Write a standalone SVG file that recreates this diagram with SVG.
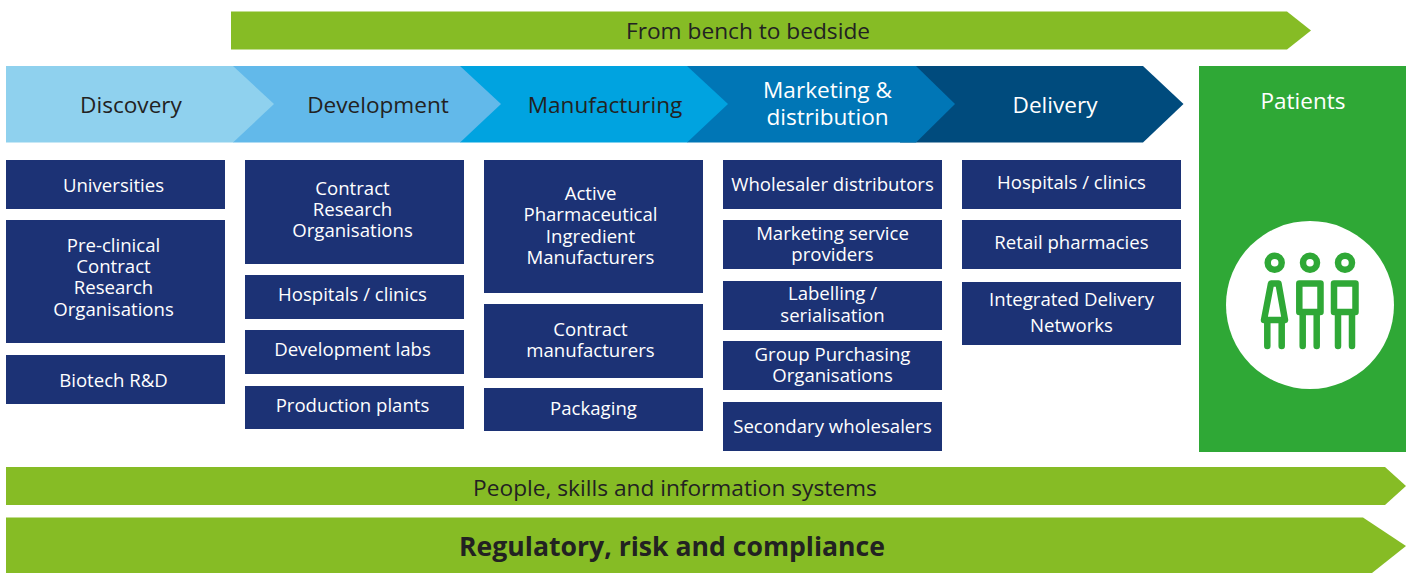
<svg xmlns="http://www.w3.org/2000/svg" width="1406" height="573" viewBox="0 0 1406 573">
<style>
text{font-family:"Open Sans","Liberation Sans",sans-serif;text-anchor:middle}
.b{fill:#1c3275}
.t{fill:#fff;font-size:18.6px}
.h{font-size:22.6px}
.d{fill:#222}
.w{fill:#fff}
.lime{fill:#86bc25}
.i{fill:none;stroke:#2fa836;stroke-width:6.5;stroke-linecap:round;stroke-linejoin:round}
</style>
<rect width="1406" height="573" fill="#fff"/>
<g id="bench"><polygon class="lime" points="231,11.5 1287,11.5 1311,30.5 1287,49.5 231,49.5"/><text class="d" x="748" y="39" font-size="22.7">From bench to bedside</text></g>
<g id="delivery"><polygon fill="#004b7d" points="900,66 1143,66 1183.500,104 1143,142.500 900,142.500"/><text class="w h" x="1055" y="113">Delivery</text></g>
<g id="marketing"><polygon fill="#0076b6" points="687,66 916,66 955,104 916,142.500 687,142.500"/><text class="w h" x="827.500" y="98">Marketing &amp;</text><text class="w h" x="827.500" y="125">distribution</text></g>
<g id="manufacturing"><polygon fill="#00a3e0" points="460,66 687,66 728,104 687,142.500 460,142.500"/><text class="d h" x="605" y="113">Manufacturing</text></g>
<g id="development"><polygon fill="#62b9ea" points="233,66 460,66 501,104 460,142.500 233,142.500"/><text class="d h" x="378" y="113">Development</text></g>
<g id="discovery"><polygon fill="#8fd1ee" points="6,66 233,66 274,104 233,142.500 6,142.500"/><text class="d h" x="131" y="113">Discovery</text></g>

<g id="universities"><rect class="b" x="6" y="160" width="219" height="49"/><text class="t" x="113.500" y="192">Universities</text></g>
<g id="preclinical"><rect class="b" x="6" y="220" width="219" height="123"/><text class="t" x="113.500" y="252">Pre-clinical</text><text class="t" x="113.500" y="273">Contract</text><text class="t" x="113.500" y="294">Research</text><text class="t" x="113.500" y="316">Organisations</text></g>
<g id="biotech"><rect class="b" x="6" y="355" width="219" height="49"/><text class="t" x="113.500" y="387">Biotech R&amp;D</text></g>

<g id="cro"><rect class="b" x="245" y="160" width="219" height="104"/><text class="t" x="352.500" y="195">Contract</text><text class="t" x="352.500" y="216">Research</text><text class="t" x="352.500" y="237">Organisations</text></g>
<g id="hospitals1"><rect class="b" x="245" y="275" width="219" height="44"/><text class="t" x="352.500" y="301">Hospitals / clinics</text></g>
<g id="devlabs"><rect class="b" x="245" y="330" width="219" height="44"/><text class="t" x="352.500" y="356">Development labs</text></g>
<g id="plants"><rect class="b" x="245" y="386" width="219" height="43"/><text class="t" x="352.500" y="412">Production plants</text></g>

<g id="api"><rect class="b" x="484" y="160" width="219" height="133"/><text class="t" x="590.500" y="200">Active</text><text class="t" x="590.500" y="221">Pharmaceutical</text><text class="t" x="590.500" y="243">Ingredient</text><text class="t" x="590.500" y="264">Manufacturers</text></g>
<g id="contractman"><rect class="b" x="484" y="304" width="219" height="74"/><text class="t" x="590.500" y="336">Contract</text><text class="t" x="590.500" y="357">manufacturers</text></g>
<g id="packaging"><rect class="b" x="484" y="388" width="219" height="43"/><text class="t" x="593.500" y="415">Packaging</text></g>

<g id="wholesalers"><rect class="b" x="723" y="160" width="219" height="49"/><text class="t" x="832.500" y="191">Wholesaler distributors</text></g>
<g id="marketingservice"><rect class="b" x="723" y="220" width="219" height="49"/><text class="t" x="832.500" y="240">Marketing service</text><text class="t" x="832.500" y="261">providers</text></g>
<g id="labelling"><rect class="b" x="723" y="281" width="219" height="49"/><text class="t" x="832.500" y="300">Labelling /</text><text class="t" x="832.500" y="322">serialisation</text></g>
<g id="gpo"><rect class="b" x="723" y="341" width="219" height="49"/><text class="t" x="832.500" y="361">Group Purchasing</text><text class="t" x="832.500" y="382">Organisations</text></g>
<g id="secondary"><rect class="b" x="723" y="402" width="219" height="49"/><text class="t" x="832.500" y="433">Secondary wholesalers</text></g>

<g id="hospitals2"><rect class="b" x="962" y="160" width="219" height="49"/><text class="t" x="1071.500" y="189">Hospitals / clinics</text></g>
<g id="retail"><rect class="b" x="962" y="220" width="219" height="49"/><text class="t" x="1071.500" y="249">Retail pharmacies</text></g>
<g id="idn"><rect class="b" x="962" y="282" width="219" height="63"/><text class="t" x="1071.500" y="306">Integrated Delivery</text><text class="t" x="1071.500" y="332">Networks</text></g>

<g id="patients"><rect fill="#2fa836" x="1199" y="66" width="207" height="386"/><text class="w" x="1303" y="109" font-size="22.500">Patients</text>
<circle class="w" cx="1310" cy="305" r="84"/>
<circle class="i" cx="1274.700" cy="262.700" r="7"/><circle class="i" cx="1310" cy="262.700" r="7"/><circle class="i" cx="1345" cy="262.700" r="7"/>
<path class="i" d="M1271 283.500H1278.500L1285 320H1264ZM1267.300 320V346M1281.700 320V346"/>
<path class="i" d="M1299.300 283.500H1320.500V312H1299.300ZM1302.700 312V346M1316.700 312V346"/>
<path class="i" d="M1334 283.500H1355.500V312H1334ZM1338 312V346M1352 312V346"/>
</g>

<g id="people"><polygon class="lime" points="6,467 1385,467 1406,486 1385,505 6,505"/><text class="d" x="675" y="496" font-size="22.700">People, skills and information systems</text></g>
<g id="regulatory"><polygon class="lime" points="6,517.500 1363,517.500 1406,546 1372,573 6,573"/><text class="d" x="672" y="556" font-size="26.600" font-weight="700">Regulatory, risk and compliance</text></g>
<g id="connectors"/>
</svg>
